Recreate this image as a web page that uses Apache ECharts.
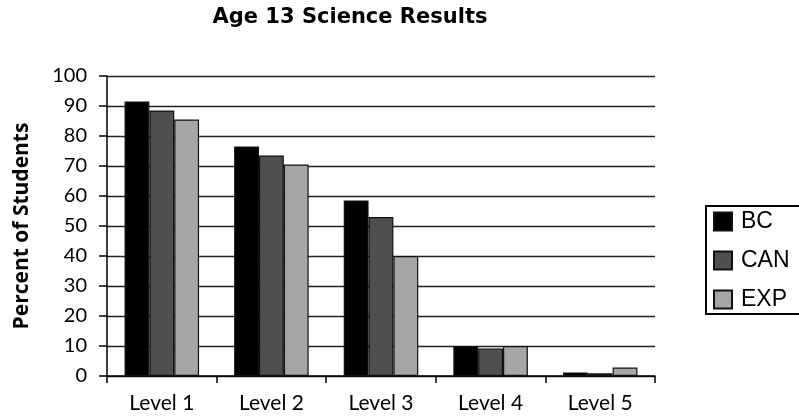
<!DOCTYPE html>
<html>
<head>
<meta charset="utf-8">
<script src="https://cdn.jsdelivr.net/npm/echarts@6/dist/echarts.min.js"></script>
<style>
  html, body { margin: 0; padding: 0; background: #fff; }
  #chart { width: 799px; height: 419px; }
</style>
</head>
<body>
<div id="chart"></div>
<script>
// 数据
var categories = ['Level 1', 'Level 2', 'Level 3', 'Level 4', 'Level 5'];
var bcValues = [91.5, 76.5, 58.5, 10, 1.2];
var canValues = [88.5, 73.5, 53, 9.2, 0.9];
var expValues = [85.5, 70.5, 40, 10, 2.8];

var chart = echarts.init(document.getElementById('chart'));

function barSeries(name, data, color) {
  return {
    name: name,
    type: 'bar',
    data: data,
    barGap: '0%',
    barCategoryGap: '32%',
    itemStyle: {
      color: color,
      borderColor: '#111',
      borderWidth: 1.2
    }
  };
}

var option = {
  animation: false,
  title: {
    text: 'Age 13 Science Results',
    left: 350,
    top: 7,
    padding: 0,
    textAlign: 'center',
    textStyle: {
      fontFamily: 'DejaVu Sans',
      fontWeight: 'bold',
      fontSize: 21,
      color: '#000'
    }
  },
  legend: {
    orient: 'vertical',
    left: 706,
    top: 206,
    padding: [4, 30, 3, 7],
    itemGap: 16,
    itemWidth: 18,
    itemHeight: 18,
    borderColor: '#000',
    borderWidth: 2,
    backgroundColor: '#fff',
    icon: 'rect',
    textStyle: {
      fontFamily: 'Liberation Sans',
      fontSize: 23,
      color: '#000',
      padding: [0, 0, 0, 4]
    },
    data: ['BC', 'CAN', 'EXP']
  },
  grid: {
    left: 107,
    right: 144,
    top: 76,
    bottom: 43
  },
  xAxis: {
    type: 'category',
    data: categories,
    axisLine: { lineStyle: { color: '#000', width: 1.5 } },
    axisTick: { show: true, length: 7, lineStyle: { color: '#000', width: 1.5 } },
    axisLabel: {
      fontFamily: 'Lato',
      fontSize: 21,
      color: '#000',
      margin: 17
    }
  },
  yAxis: {
    type: 'value',
    min: 0,
    max: 100,
    interval: 10,
    name: 'Percent of Students',
    nameLocation: 'middle',
    nameGap: 74,
    nameTextStyle: {
      fontFamily: 'Open Sans',
      fontWeight: 'bold',
      fontSize: 21,
      color: '#000'
    },
    axisLine: { show: true, lineStyle: { color: '#000', width: 1.5 } },
    axisTick: { show: true, length: 8, lineStyle: { color: '#000', width: 1.5 } },
    splitLine: { show: true, lineStyle: { color: '#222', width: 1.3 } },
    axisLabel: {
      fontFamily: 'Lato',
      fontSize: 20,
      color: '#000',
      margin: 20
    }
  },
  series: [
    barSeries('BC', bcValues, '#000000'),
    barSeries('CAN', canValues, '#4f4f4f'),
    barSeries('EXP', expValues, '#a6a6a6')
  ]
};

chart.setOption(option);
</script>
</body>
</html>
